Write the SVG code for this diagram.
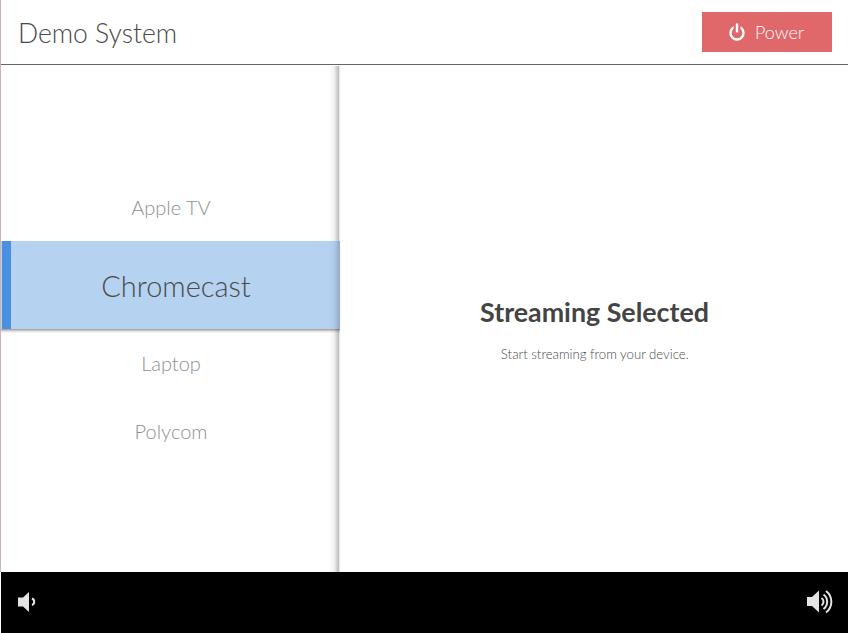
<svg xmlns="http://www.w3.org/2000/svg" width="848" height="633" viewBox="0 0 848 633">
<style>
text{font-family:Lato,"Open Sans","Liberation Sans",sans-serif;font-weight:300}
.item{font-size:20px;fill:#8f8f8f;text-anchor:middle}
</style>
<defs>
<linearGradient id="sh" x1="0" x2="1" y1="0" y2="0"><stop offset="0" stop-color="#000" stop-opacity="0"/><stop offset=".5" stop-color="#000" stop-opacity=".05"/><stop offset="1" stop-color="#000" stop-opacity=".28"/></linearGradient>
<linearGradient id="sh2" x1="0" x2="1" y1="0" y2="0"><stop offset="0" stop-color="#000" stop-opacity=".1"/><stop offset="1" stop-color="#000" stop-opacity="0"/></linearGradient>
<linearGradient id="sh3" x1="0" x2="0" y1="0" y2="1"><stop offset="0" stop-color="#000" stop-opacity=".4"/><stop offset=".5" stop-color="#000" stop-opacity=".15"/><stop offset="1" stop-color="#000" stop-opacity="0"/></linearGradient>
</defs>
<rect width="848" height="633" fill="#fff"/>
<rect x="0" y="0" width="1" height="572" fill="#c9b4b0"/>
<rect x="329" y="66" width="10" height="506" fill="url(#sh)"/>
<rect x="339" y="66" width="2" height="506" fill="url(#sh2)"/>
<g id="header">
<text x="18" y="42.500" font-size="26.500" fill="#4a4a4a">Demo System</text>
<rect x="1" y="64" width="847" height="1" fill="#666"/>
</g>
<g id="power">
<rect x="702" y="12" width="130" height="40" fill="#e0676a"/>
<circle cx="737" cy="33" r="6.500" fill="none" stroke="#fff" stroke-width="2.400"/>
<rect x="733.500" y="23" width="7" height="9" fill="#e0676a"/>
<rect x="735.800" y="23.500" width="2.400" height="9" fill="#fff"/>
<text x="755" y="39" font-size="18" fill="#fff">Power</text>
</g>
<g id="apple-tv"><text class="item" x="171" y="215">Apple TV</text></g>
<g id="chromecast">
<rect x="1" y="241" width="339" height="88" fill="#b5d2f1"/>
<rect x="1" y="329" width="339" height="4" fill="url(#sh3)"/>
<rect x="328" y="241" width="12" height="88" fill="url(#sh)" opacity=".7"/>
<rect x="2" y="241" width="9" height="88" fill="#4a90e2"/>
<text x="176" y="297" font-size="29" fill="#4a4a4a" text-anchor="middle">Chromecast</text>
</g>
<g id="laptop"><text class="item" x="171" y="371">Laptop</text></g>
<g id="polycom"><text class="item" x="171" y="438.500">Polycom</text></g>
<g id="status">
<text x="594.500" y="321.500" font-size="26.800" fill="#444" text-anchor="middle" style="font-weight:700">Streaming Selected</text>
<text x="594.800" y="358.500" font-size="13.200" fill="#4a4a4a" text-anchor="middle">Start streaming from your device.</text>
</g>
<g id="footer">
<rect x="1" y="572" width="847" height="61" fill="#000"/>
<path d="M18 597.500h5l6-5.500v20l-6-5.500h-5z" fill="#e4e4e4"/>
<path d="M32 598.500a3.500 3.500 0 0 1 0 6.500" fill="none" stroke="#e4e4e4" stroke-width="2"/>
<path d="M807 597h5l7-6.500v22l-7-6.500h-5z" fill="#e4e4e4"/>
<g fill="none" stroke="#e4e4e4" stroke-width="2">
<path d="M821.500 598a4.500 4.500 0 0 1 0 7.500"/>
<path d="M823.500 594.500a9 9 0 0 1 0 14.500"/>
<path d="M826 591a13.500 13.500 0 0 1 0 21.500"/>
</g>
</g>
</svg>
